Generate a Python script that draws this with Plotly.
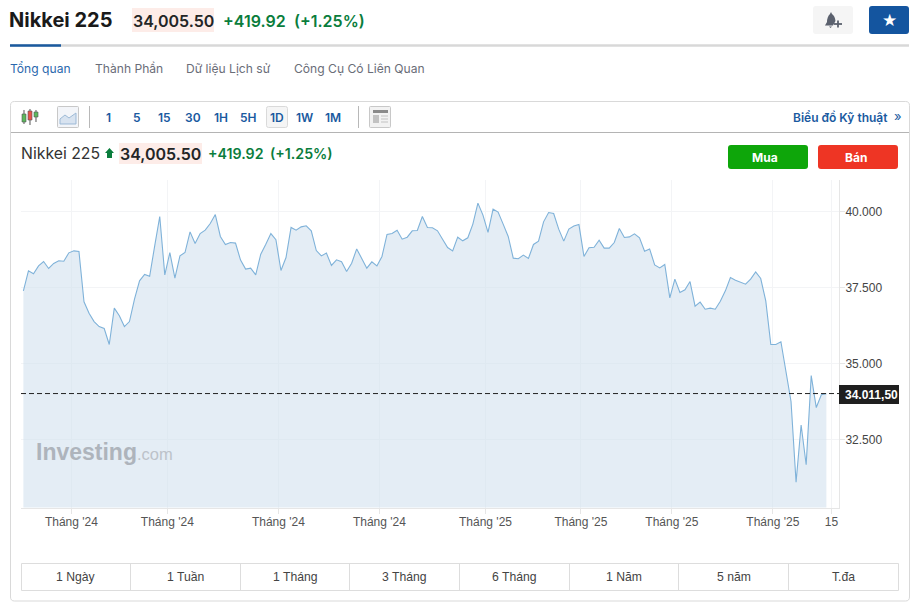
import plotly.graph_objects as go

W, H = 923, 602

# ---- data ----
close_values = [
    37390, 38050, 37950, 38210, 38355, 38125, 38290, 38380, 38365, 38640, 38705, 38685, 37030,
    36655, 36380, 36215, 36150, 35625, 36820, 36570, 36215, 36380, 37115, 37720, 37930, 37870,
    38870, 39835, 37915, 38650, 37805, 38540, 38650, 39330, 38945, 39275, 39385, 39605, 39900,
    39180, 38915, 38980, 38960, 38400, 38105, 38135, 37915, 38595, 38925, 39275, 39070, 38060,
    38485, 39475, 39385, 39495, 39530, 39365, 38715, 38540, 38630, 38225, 38410, 38345, 38025,
    38300, 38770, 38455, 38135, 38345, 38210, 38520, 39245, 39275, 39385, 39090, 39155, 39365,
    39375, 39835, 39475, 39465, 39365, 39090, 38815, 38705, 39155, 39035, 39135, 39585, 40275,
    39880, 39310, 40075, 39980, 39585, 39180, 38465, 38445, 38565, 38455, 38915, 39025, 39660,
    39965, 39935, 39420, 39025, 39420, 39520, 39570, 38520, 38805, 38825, 39055, 38795, 38795,
    38980, 39440, 39145, 39165, 39265, 39135, 38695, 38770, 38245, 38145, 38255, 37160, 37775,
    37335, 37425, 37695, 36885, 37020, 36785, 36820, 36785, 37050, 37390, 37830, 37740, 37675,
    37610, 37775, 38015, 37795, 37060, 35625, 35625, 35715, 34800, 33750, 31095, 32975, 31670,
    34600, 33550, 33970, 34005,
]
session_index = list(range(len(close_values)))
month_tick_index = [9.5, 28.5, 50.5, 70.5, 91.5, 110.4, 128.4, 148.4, 160]
month_tick_labels = ["Tháng '24", "Tháng '24", "Tháng '24", "Tháng '24", "Tháng '25",
                     "Tháng '25", "Tháng '25", "Tháng '25", "15"]
price_ticks = [32500, 35000, 37500, 40000]
price_tick_labels = ["32.500", "35.000", "37.500", "40.000"]
last_price = 34011.5
last_price_label = "34.011,50"
x_range = [-0.475, 161.5]
y_range = [30263, 41036]
interval_labels = ["1", "5", "15", "30", "1H", "5H", "1D", "1W", "1M"]
period_labels = ["1 Ngày", "1 Tuần", "1 Tháng", "3 Tháng", "6 Tháng", "1 Năm", "5 năm", "T.đa"]
tab_labels = ["Tổng quan", "Thành Phần", "Dữ liệu Lịch sử", "Công Cụ Có Liên Quan"]

INTER = "Inter, sans-serif"
ARIAL = "Liberation Sans, Arial, sans-serif"
BLUE = "#1a5a9f"
GREEN = "#0a7d3c"


def px(x):
    return x / W


def py(y):
    return 1 - y / H


shapes, annotations = [], []


def text(x, y, s, size=12, color="#333", family=INTER, anchor="left", weight=None):
    font = dict(size=size, color=color, family=family)
    if weight:
        font["weight"] = weight
    annotations.append(dict(x=px(x), y=py(y), xref="paper", yref="paper", text=s, showarrow=False,
                            xanchor=anchor, yanchor="middle", font=font, borderpad=0, borderwidth=0))


def rect(x0, y0, x1, y1, fill="rgba(0,0,0,0)", line=None, lw=1, layer="below"):
    shapes.append(dict(type="rect", xref="paper", yref="paper", x0=px(x0), x1=px(x1), y0=py(y0), y1=py(y1),
                       fillcolor=fill, line=dict(color=line or "rgba(0,0,0,0)", width=lw if line else 0),
                       layer=layer))


def path_of(points):
    cmds = []
    for i, p in enumerate(points):
        if p == "Z":
            cmds.append("Z")
        elif len(p) == 4:
            cmds.append(f"Q{px(p[0]):.5f},{py(p[1]):.5f} {px(p[2]):.5f},{py(p[3]):.5f}")
        else:
            cmds.append(("M" if i == 0 else "L") + f"{px(p[0]):.5f},{py(p[1]):.5f}")
    return " ".join(cmds)


def path(points, fill="rgba(0,0,0,0)", line=None, lw=1, layer="below"):
    shapes.append(dict(type="path", xref="paper", yref="paper", path=path_of(points), fillcolor=fill,
                       line=dict(color=line or "rgba(0,0,0,0)", width=lw if line else 0), layer=layer))


def rrect(x0, y0, x1, y1, r=3, fill="rgba(0,0,0,0)", line=None, lw=1):
    path([(x0 + r, y0), (x1 - r, y0), (x1, y0, x1, y0 + r), (x1, y1 - r), (x1, y1, x1 - r, y1),
          (x0 + r, y1), (x0, y1, x0, y1 - r), (x0, y0 + r), (x0, y0, x0 + r, y0), "Z"], fill, line, lw)


def hline(x0, x1, y, color, lw=1):
    path([(x0, y), (x1, y)], line=color, lw=lw)


def vline(x, y0, y1, color, lw=1):
    path([(x, y0), (x, y1)], line=color, lw=lw)


# ---- page header ----
text(9, 20, "Nikkei 225", 20, "#1a1a1a", weight=700)
rect(132, 8, 214, 32, fill="#fdece8")
text(133, 20.5, "34,005.50", 16, "#232526", weight=600)
text(223, 20.5, "+419.92", 16, GREEN, weight=600)
text(294, 20.5, "(+1.25%)", 16, GREEN, weight=600)
rrect(813, 6, 853, 34, 3, fill="#f5f5f5")
path([(825, 25.5), (827, 22), (827, 17, 830, 14), (831, 12), (832, 14), (835, 16, 835.5, 21),
      (833, 25.5), "Z"], fill="#5b616e")
path([(829, 26.5), (832, 26.5), (830.5, 28), "Z"], fill="#5b616e")
hline(834, 842, 24, "#5b616e", 1.8)
vline(838, 20.5, 27.5, "#5b616e", 1.8)
rrect(869, 6, 909, 34, 3, fill="#14559f")
text(889.5, 20, "★", 17, "#ffffff", family="DejaVu Sans", anchor="center")
hline(10, 909, 45.5, "#d8d8d8", 2.5)
hline(10, 61, 45.5, "#1a5a9f", 2.5)

# ---- tabs ----
for x, s, c in zip([10, 95, 186, 294], tab_labels, ["#2a68ad", "#6a6d78", "#6a6d78", "#6a6d78"]):
    text(x, 68.5, s, 12.1, c)

# ---- card ----
rrect(10.5, 101.5, 909.5, 601, 4, fill="#ffffff", line="#d9d9d9")
hline(11, 909, 132.5, "#b4b4b4")

# toolbar icons
for x, t, b, bt, bb, col in [(24, 110, 124, 114, 122, "#5cb85c"), (30, 109, 125, 111, 120, "#e8524a"),
                             (36, 110, 122, 112, 117, "#5cb85c")]:
    vline(x, t, b, "#555")
    rect(x - 2, bt, x + 2, bb, fill=col, line="#555", lw=0.6)
rrect(57.5, 106.5, 78.5, 127.5, 1, fill="#f3f5f9", line="#c8c8c8")
path([(60, 124), (60, 119), (65, 115), (69, 118), (76, 113), (76, 124), "Z"], fill="#d8e3f0", line="#9dbad6", lw=1)
vline(89.5, 106, 128, "#b8b8b8")
rrect(266.5, 106.5, 287.5, 127.5, 2, fill="#f5f5f5", line="#dadada")
for x, s in zip([108.5, 136.5, 164.5, 192.5, 220.5, 248.5, 276.5, 304.5, 332.5], interval_labels):
    text(x, 117, s, 12, BLUE, anchor="center", weight=600)
vline(358.5, 106, 128, "#b8b8b8")
rrect(369.5, 106.5, 390.5, 127.5, 1, fill="#f2f2f2", line="#c8c8c8")
rect(373, 110, 388, 113, fill="#8a8a8a")
rect(373, 115, 379, 123, fill="#c2c2c2")
for y in (116, 119, 122):
    hline(381, 388, y, "#c2c2c2")
text(888, 117, "Biểu đồ Kỹ thuật", 12, BLUE, anchor="right", weight=600)
text(897.5, 116, "»", 13, BLUE, anchor="center")

# second header row
text(21, 153.5, "Nikkei 225", 15.8, "#333333")
path([(109.5, 148), (114, 153), (112, 153), (112, 158), (107, 158), (107, 153), (105, 153), "Z"], fill=GREEN)
rect(119, 143, 202, 164, fill="#fdece8")
text(120, 153.5, "34,005.50", 16, "#232526", weight=600)
text(208, 153.5, "+419.92", 14.2, GREEN, weight=600)
text(270, 153.5, "(+1.25%)", 14.2, GREEN, weight=600)
rrect(728, 145, 808, 169, 3, fill="#0ea60a")
text(765, 157, "Mua", 12, "#ffffff", anchor="center", weight=700)
rrect(818, 145, 898, 169, 3, fill="#ee3524")
text(855.5, 157, "Bán", 12, "#ffffff", anchor="center", weight=700)

# watermark
text(36, 452, "Investing", 23, "#aeb4bc", family=ARIAL, weight=700)
text(137, 454, ".com", 16.5, "#bcc2c9", family=ARIAL)

# period selector
edges = [21.5, 130.5, 240.5, 349.5, 459.5, 569.5, 678.5, 788.5, 898.5]
rect(21.5, 563.5, 898.5, 590.5, line="#dddddd")
for e in edges[1:-1]:
    vline(e, 563.5, 590.5, "#dddddd")
for i, s in enumerate(period_labels):
    text((edges[i] + edges[i + 1]) / 2, 577, s, 12.2, "#444444", family=ARIAL, anchor="center")

# last price line and tag
shapes.append(dict(type="line", xref="paper", yref="y", x0=px(21), x1=px(839), y0=last_price, y1=last_price,
                   line=dict(color="#222222", width=1, dash="5px,3px"), layer="above"))
rect(839, 385, 899, 404, fill="#1f1f1f", layer="above")
text(871, 394.5, last_price_label, 12, "#ffffff", family=ARIAL, anchor="center", weight=700)

fig = go.Figure(go.Scatter(
    x=session_index, y=close_values, mode="lines",
    line=dict(color="#7fb2d9", width=1.1),
    fill="tozeroy", fillcolor="rgba(210,225,238,0.6)",
    hoverinfo="skip", showlegend=False,
))
fig.update_layout(
    width=W, height=H, autosize=False,
    margin=dict(l=0, r=0, t=0, b=0),
    paper_bgcolor="#ffffff", plot_bgcolor="rgba(0,0,0,0)",
    shapes=shapes, annotations=annotations,
    xaxis=dict(domain=[px(21), px(839)], range=x_range, tickmode="array", tickvals=month_tick_index,
               ticktext=month_tick_labels, showgrid=True, gridcolor="#f3f4f6", gridwidth=1,
               zeroline=False, showline=True, linecolor="#e6e6e6", ticks="outside", ticklen=5,
               tickcolor="#e6e6e6", ticklabelstandoff=-2,
               tickfont=dict(family=ARIAL, size=12, color="#555555")),
    yaxis=dict(domain=[py(507.5), py(180)], range=y_range, side="right", tickmode="array",
               tickvals=price_ticks, ticktext=price_tick_labels, showgrid=True, gridcolor="#f3f4f6",
               gridwidth=1, zeroline=False, showline=True, linecolor="#e6e6e6", ticks="outside",
               ticklen=5, tickcolor="#e6e6e6", ticklabelstandoff=-2,
               tickfont=dict(family=ARIAL, size=12, color="#444444")),
)
fig.write_html("out.html", config=dict(displayModeBar=False),
               post_script="document.body.style.margin='0';")
